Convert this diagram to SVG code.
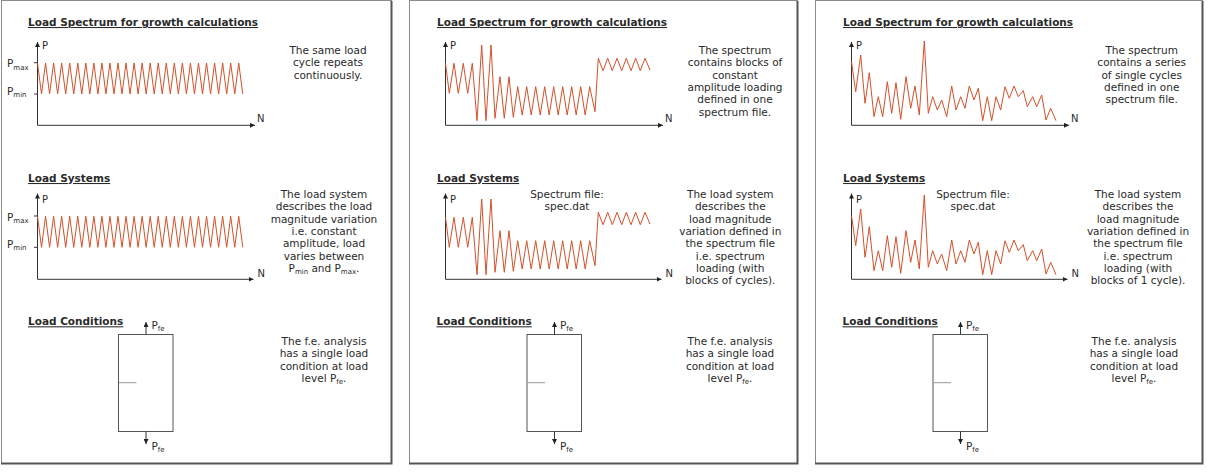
<svg xmlns="http://www.w3.org/2000/svg" width="1207" height="474" viewBox="0 0 1207 474">
<style>
.t{font-family:"DejaVu Sans",Verdana,sans-serif;font-size:10.5px;fill:#2a2a2a}
.h{font-weight:bold;text-decoration:underline}
.c{text-anchor:middle}
.s{font-size:7px}
.ax{stroke:#333;stroke-width:1;fill:none}
.w{stroke:#d4502a;stroke-width:1;fill:none}
.frame{fill:#fff;stroke:#8a8a8a;stroke-width:1}
.shadow{fill:none;stroke:#555;stroke-width:2}
.box{fill:#fff;stroke:#555;stroke-width:1}
.tick{stroke:#999;stroke-width:1}
</style>
<defs>
<marker id="ah" viewBox="0 0 6 6" refX="6" refY="3" markerWidth="5" markerHeight="5" orient="auto" markerUnits="userSpaceOnUse"><path d="M0,0L6,3L0,6z" fill="#222"/></marker>
<path id="wc" class="w" d="M37.5,63l4.025,31 4.025,-31 4.025,31 4.025,-31 4.025,31 4.025,-31 4.025,31 4.025,-31 4.025,31 4.025,-31 4.025,31 4.025,-31 4.025,31 4.025,-31 4.025,31 4.025,-31 4.025,31 4.025,-31 4.025,31 4.025,-31 4.025,31 4.025,-31 4.025,31 4.025,-31 4.025,31 4.025,-31 4.025,31 4.025,-31 4.025,31 4.025,-31 4.025,31 4.025,-31 4.025,31 4.025,-31 4.025,31 4.025,-31 4.025,31 4.025,-31 4.025,31 4.025,-31 4.025,31 4.025,-31 4.025,31 4.025,-31 4.025,31 4.025,-31 4.025,31 4.025,-31 4.025,31 4.025,-31 4.025,31"/>
<path id="wb" class="w" d="M37.5,63.3L41.3,93.3 46,63.3 50.3,93.3 55.3,63.3 59.7,93.3 64.3,63.3 69,120.7 73.7,45 78,120.7 83,45 87,118.3 92,76.7 96.3,118.3 101,76.7 105.3,117.3 109.7,86.7 114.2,115 118.7,86.7 123.2,115 127.7,86.7 132.2,115 136.7,86.7 141.2,115 145.7,86.7 150.2,115 154.7,86.7 159.2,115 163.7,86.7 168.2,115 172.7,86.7 177.2,115 181.7,86.7 187,111.7 190.3,58.3 195,70.7 199.7,58.3 204.3,70.7 209,58.3 213.7,70.7 218.3,58.3 223,70.7 227.7,58.3 232.3,70.7 237,58.3 242,70"/>
<path id="ws" class="w" d="M37.5,61.7L41.7,91.7 46.7,55 51,103.3 55.3,72.7 60,116.7 64.3,96.7 68.7,116.7 73.3,81.7 77.7,113.3 82,82.7 86.7,119.3 92,76.7 96.7,108.3 101,86 105.3,115 110.3,41 114.3,113.3 118.7,96.7 123.3,110 127.7,100 132.7,116.7 137.7,86 142,110 146.7,96.7 151,108.3 155.3,86 160,100 164.3,88.3 168.7,120.7 173.3,96.7 177.7,120.7 182,96.7 186.7,110 191,86.7 195.3,98.3 200,86 204.3,96.7 209.3,90.7 213.3,106.7 218.7,96.7 222.7,106.7 227.7,95 232,120 236.7,108.3 242,120.7"/>
<g id="lc">
<text class="t h" x="28" y="325.3">Load Conditions</text>
<rect class="box" x="118.5" y="334.5" width="54.5" height="97"/>
<line class="tick" x1="119" y1="382.7" x2="136.5" y2="382.7"/>
<line class="ax" x1="146" y1="334.5" x2="146" y2="322" marker-end="url(#ah)"/>
<line class="ax" x1="146" y1="431.5" x2="146" y2="444" marker-end="url(#ah)"/>
<text class="t" x="151.5" y="328.5">P<tspan class="s" dy="2.5">fe</tspan></text>
<text class="t" x="151.5" y="449.5">P<tspan class="s" dy="2.5">fe</tspan></text>
</g>
<g id="axes">
<line class="ax" x1="37.5" y1="125.3" x2="37.5" y2="42" marker-end="url(#ah)"/>
<line class="ax" x1="37.5" y1="125.3" x2="255" y2="125.3" marker-end="url(#ah)"/>
<text class="t" x="42" y="48.5" style="font-size:10px">P</text>
<text class="t" x="257" y="121.7" style="font-size:10px">N</text>
<line class="ax" x1="37.5" y1="279.3" x2="37.5" y2="193.5" marker-end="url(#ah)"/>
<line class="ax" x1="37.5" y1="279.3" x2="253.5" y2="279.3" marker-end="url(#ah)"/>
<text class="t" x="42" y="203.3" style="font-size:10px">P</text>
<text class="t" x="257.5" y="276.7" style="font-size:10px">N</text>
</g>
</defs>

<g id="panel-constant">
<rect class="frame" x="1.5" y="0.5" width="390" height="463"/>
<polyline class="shadow" points="391.5,1 391.5,463.5 1,463.5"/>
<text class="t h" x="28" y="26">Load Spectrum for growth calculations</text>
<use href="#axes"/>
<use href="#wc"/>
<line class="ax" x1="34" y1="62.7" x2="37.5" y2="62.7"/>
<line class="ax" x1="34" y1="94" x2="37.5" y2="94"/>
<text class="t" x="7" y="67">P<tspan class="s" dy="2.5">max</tspan></text>
<text class="t" x="7" y="94.5">P<tspan class="s" dy="2.5">min</tspan></text>
<text class="t c" x="328" y="54">The same load</text>
<text class="t c" x="328" y="66.3">cycle repeats</text>
<text class="t c" x="328" y="78.6">continuously.</text>
<text class="t h" x="28" y="182">Load Systems</text>
<use href="#wc" transform="translate(0,153.3)"/>
<line class="ax" x1="34" y1="216" x2="37.5" y2="216"/>
<line class="ax" x1="34" y1="247.3" x2="37.5" y2="247.3"/>
<text class="t" x="7" y="220.5">P<tspan class="s" dy="2.5">max</tspan></text>
<text class="t" x="7" y="247.8">P<tspan class="s" dy="2.5">min</tspan></text>
<g class="t c">
<text x="324" y="198">The load system</text>
<text x="324" y="210.3">describes the load</text>
<text x="324" y="222.6">magnitude variation</text>
<text x="324" y="234.9">i.e. constant</text>
<text x="324" y="247.2">amplitude, load</text>
<text x="324" y="259.5">varies between</text>
<text x="324" y="271.8">P<tspan class="s" dy="2.5">min</tspan><tspan dy="-2.5"> and P</tspan><tspan class="s" dy="2.5">max</tspan><tspan dy="-2.5">.</tspan></text>
</g>
<use href="#lc"/>
<g class="t c">
<text x="324" y="345">The f.e. analysis</text>
<text x="324" y="357.3">has a single load</text>
<text x="324" y="369.6">condition at load</text>
<text x="324" y="381.9">level P<tspan class="s" dy="2.5">fe</tspan><tspan dy="-2.5">.</tspan></text>
</g>
</g>

<g id="panel-blocks" transform="translate(408,0)">
<rect class="frame" x="1.5" y="0.5" width="388" height="463"/>
<polyline class="shadow" points="389.5,1 389.5,463.5 1,463.5"/>
<text class="t h" x="29" y="26">Load Spectrum for growth calculations</text>
<use href="#axes"/>
<use href="#wb"/>
<g class="t c">
<text x="327" y="54">The spectrum</text>
<text x="327" y="66.3">contains blocks of</text>
<text x="327" y="78.6">constant</text>
<text x="327" y="90.9">amplitude loading</text>
<text x="327" y="103.2">defined in one</text>
<text x="327" y="115.5">spectrum file.</text>
</g>
<text class="t h" x="29" y="182">Load Systems</text>
<use href="#wb" transform="translate(0,154)"/>
<text class="t c" x="159" y="198">Spectrum file:</text>
<text class="t c" x="159" y="210.3">spec.dat</text>
<g class="t c">
<text x="322.3" y="198">The load system</text>
<text x="322.3" y="210.3">describes the</text>
<text x="322.3" y="222.6">load magnitude</text>
<text x="322.3" y="234.9">variation defined in</text>
<text x="322.3" y="247.2">the spectrum file</text>
<text x="322.3" y="259.5">i.e. spectrum</text>
<text x="322.3" y="271.8">loading (with</text>
<text x="322.3" y="284.1">blocks of cycles).</text>
</g>
<use href="#lc" transform="translate(0.5,0)"/>
<g class="t c">
<text x="322" y="345">The f.e. analysis</text>
<text x="322" y="357.3">has a single load</text>
<text x="322" y="369.6">condition at load</text>
<text x="322" y="381.9">level P<tspan class="s" dy="2.5">fe</tspan><tspan dy="-2.5">.</tspan></text>
</g>
</g>

<g id="panel-single" transform="translate(814,0)">
<rect class="frame" x="1.5" y="0.5" width="387" height="463"/>
<polyline class="shadow" points="388.5,1 388.5,463.5 1,463.5"/>
<text class="t h" x="29" y="26">Load Spectrum for growth calculations</text>
<use href="#axes"/>
<use href="#ws"/>
<g class="t c">
<text x="327.7" y="54">The spectrum</text>
<text x="327.7" y="66.3">contains a series</text>
<text x="327.7" y="78.6">of single cycles</text>
<text x="327.7" y="90.9">defined in one</text>
<text x="327.7" y="103.2">spectrum file.</text>
</g>
<text class="t h" x="29" y="182">Load Systems</text>
<use href="#ws" transform="translate(0,154)"/>
<text class="t c" x="159" y="198">Spectrum file:</text>
<text class="t c" x="159" y="210.3">spec.dat</text>
<g class="t c">
<text x="324" y="198">The load system</text>
<text x="324" y="210.3">describes the</text>
<text x="324" y="222.6">load magnitude</text>
<text x="324" y="234.9">variation defined in</text>
<text x="324" y="247.2">the spectrum file</text>
<text x="324" y="259.5">i.e. spectrum</text>
<text x="324" y="271.8">loading (with</text>
<text x="324" y="284.1">blocks of 1 cycle).</text>
</g>
<use href="#lc" transform="translate(0.5,0)"/>
<g class="t c">
<text x="320" y="345">The f.e. analysis</text>
<text x="320" y="357.3">has a single load</text>
<text x="320" y="369.6">condition at load</text>
<text x="320" y="381.9">level P<tspan class="s" dy="2.5">fe</tspan><tspan dy="-2.5">.</tspan></text>
</g>
</g>
</svg>
